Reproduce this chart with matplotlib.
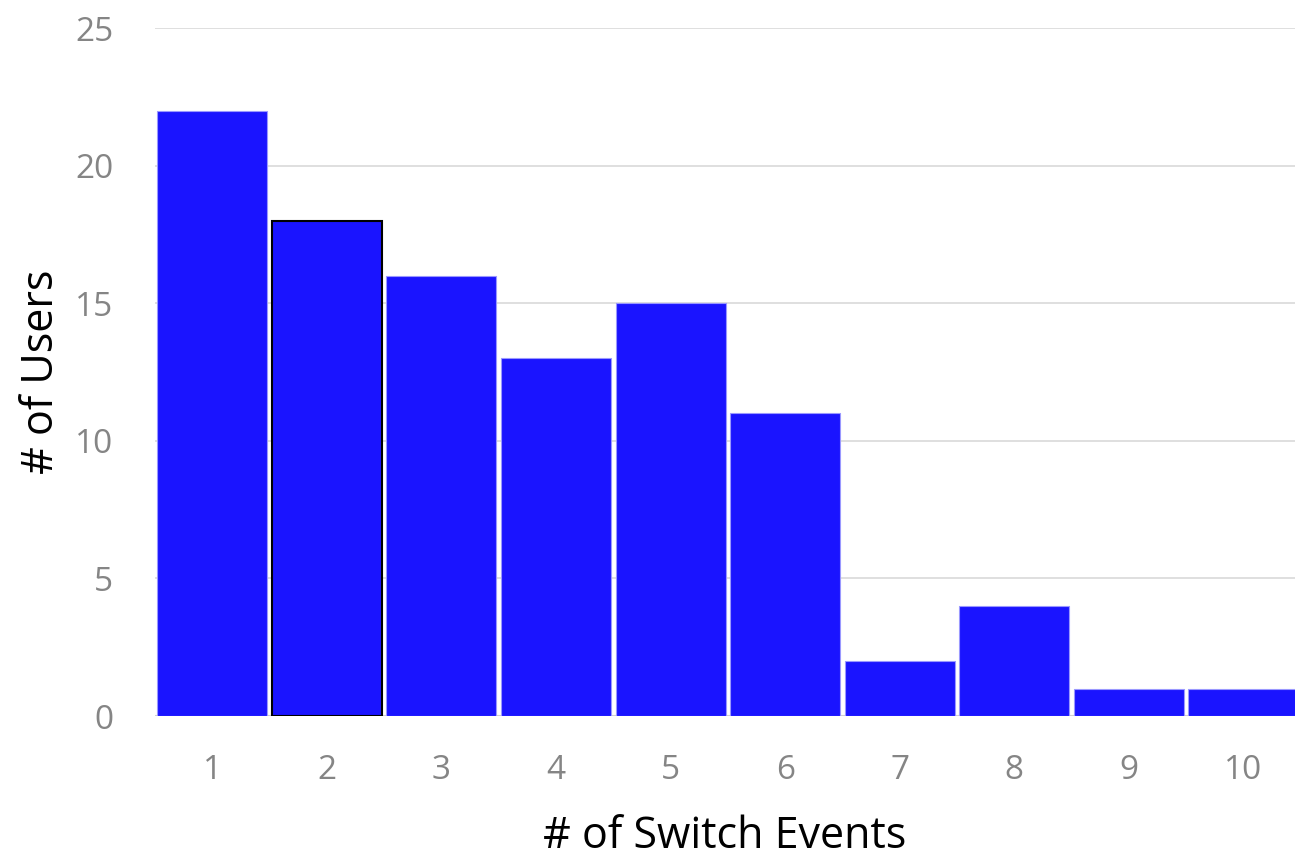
import matplotlib.pyplot as plt

events = [1, 2, 3, 4, 5, 6, 7, 8, 9, 10]
users = [22, 18, 16, 13, 15, 11, 2, 4, 1, 1]
y_ticks = [0, 5, 10, 15, 20, 25]

plt.rcParams['font.family'] = ['Open Sans', 'DejaVu Sans']

fig = plt.figure(figsize=(12.95, 8.57), dpi=100)
ax = fig.add_axes([0.1197, 0.1645, 0.8803, 0.8025])

bars = ax.bar(events, users, width=0.96, color='#1a14ff', edgecolor='#9a98ff', linewidth=0.8, zorder=3)
bars[1].set_edgecolor('black')
bars[1].set_linewidth(1.5)

ax.set_xlim(0.5, 10.45)
ax.set_ylim(0, 25)
ax.set_yticks(y_ticks)
ax.set_xticks(events)
ax.grid(axis='y', color='#d9d9d9', linewidth=1.2, zorder=0)
ax.axhline(0, color='#d0d0d0', linewidth=1.5, zorder=2)

for s in ax.spines.values():
    s.set_visible(False)
ax.tick_params(length=0, labelsize=24, colors='#858585')
ax.tick_params(axis='x', pad=27)
ax.tick_params(axis='y', pad=30)

ax.set_xlabel('# of Switch Events', fontsize=31, labelpad=20)
ax.set_ylabel('# of Users', fontsize=31, labelpad=8)

fig.savefig('out.png', dpi=100)
